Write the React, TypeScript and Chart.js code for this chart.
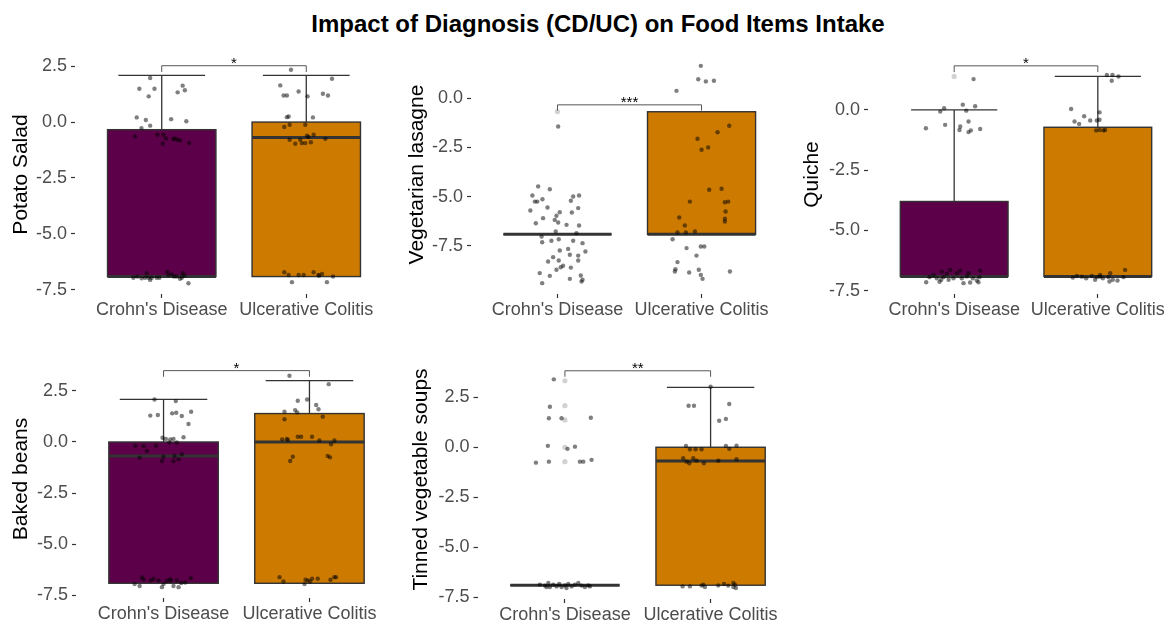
import React, { useEffect, useRef } from 'react';
import { Chart, registerables } from 'chart.js';

Chart.register(...registerables);

const FONT = "'Liberation Sans', Arial, Helvetica, sans-serif";
const TITLE = 'Impact of Diagnosis (CD/UC) on Food Items Intake';
const CATEGORIES = ["Crohn's Disease", 'Ulcerative Colitis'];
const Y_TICKS = [-7.5, -5, -2.5, 0, 2.5];
const FILL_COLORS = ['#5C0049', '#CC7A00'];

const ITEM_NAMES = ['Potato Salad', 'Vegetarian lasagne', 'Quiche', 'Baked beans', 'Tinned vegetable soups'];
const Y_MIN = [-7.69, -9.94, -7.64, -7.63, -7.6];
const Y_MAX = [3.0, 2.19, 2.28, 4.01, 4.37];

// Box stats per item: [q1, median, q3, upper whisker] for CD and UC
const BOX_CD = [
  [-6.91, -6.91, -0.34, 2.09],
  [-6.91, -6.91, -6.91, -6.91],
  [-6.91, -6.91, -3.8, 0.0],
  [-6.91, -0.69, 0.0, 2.08],
  [-6.91, -6.91, -6.91, -6.91],
];
const BOX_UC = [
  [-6.91, -0.69, 0.0, 2.09],
  [-6.91, -6.91, -0.69, -0.69],
  [-6.91, -6.91, -0.72, 1.39],
  [-6.91, 0.0, 1.39, 3.0],
  [-6.91, -0.69, 0.0, 3.0],
];

// Significance brackets: bar y, tip y, label
const BRACKET_Y = [2.52, -0.34, 1.83, 3.49, 3.83];
const BRACKET_TIP = [2.24, -0.63, 1.57, 3.19, 3.53];
const BRACKET_LABEL = ['*', '***', '*', '*', '**'];

// Outliers (drawn at category centre) for CD and UC
const OUT_CD = [[], [-0.68], [1.39], [], [3.33, 2.08, 1.37, 0.0, -0.72]];
const OUT_UC = [[], [], [], [], []];

// Jittered observations: [jitter offset from category, value]
const POTATO_CD = [
  [-0.08, 1.97], [-0.155, 1.49], [-0.05, 1.49], [-0.09, 1.15], [0.145, 1.63], [0.16, 1.42], [0.11, 1.33],
  [-0.173, 0.21], [-0.11, 0.09], [0.065, 0.13], [0.17, 0.04], [-0.14, -0.27], [-0.08, -0.16],
  [-0.185, -0.64], [-0.03, -0.57], [0.012, -0.57], [0.03, -0.73], [0.08, -0.76], [0.092, -0.73], [0.108, -0.79],
  [0.007, -0.97], [0.19, -0.94], [0.127, -0.82],
  [-0.196, -6.96], [-0.169, -6.91], [-0.139, -6.99], [-0.104, -6.76], [-0.092, -6.96], [-0.08, -7.06], [-0.069, -6.96],
  [-0.016, -6.96], [0.039, -6.7], [0.069, -6.81], [0.085, -6.91], [0.104, -6.91], [0.127, -7.01], [0.145, -6.76],
  [0.157, -6.87], [0.185, -7.21], [-0.035, -6.96], [-0.115, -6.96], [0.046, -6.84], [0.139, -6.96],
];
const POTATO_UC = [
  [-0.106, 2.34], [-0.18, 1.64], [-0.157, 1.19], [-0.134, 1.19], [-0.053, 1.37], [0.009, 1.15], [0.178, 1.94],
  [0.115, 1.27], [0.15, 1.19],
  [-0.134, 0.22], [-0.122, 0.25], [0.046, 0.21], [-0.152, -0.22], [-0.115, -0.12], [-0.007, -0.12],
  [-0.115, -0.79], [-0.076, -0.97], [-0.03, -0.94], [-0.007, -0.94], [0.032, -0.9], [0.016, -0.67], [0.005, -0.61],
  [0.051, -0.57], [0.132, -0.75], [-0.042, -0.79],
  [-0.152, -6.72], [-0.122, -6.84], [-0.053, -6.84], [-0.018, -6.84], [0.051, -6.72], [0.085, -6.84], [0.109, -6.79],
  [0.185, -6.91], [-0.099, -7.16], [0.143, -7.16], [0.088, -6.87],
];
const LASAGNE_CD = [
  [-0.134, -4.48], [-0.053, -4.62], [-0.174, -4.94], [-0.157, -5.25], [-0.14, -5.25], [-0.104, -5.13], [-0.069, -5.55],
  [-0.188, -5.7], [-0.1, -6.09], [-0.15, -6.35], [-0.019, -6.18], [-0.007, -5.97], [0.016, -5.79], [0.005, -6.31],
  [0.063, -6.43], [0.1, -5.8], [0.109, -4.99], [0.15, -4.94], [0.093, -5.21], [0.144, -5.58], [0.15, -6.46],
  [-0.012, -6.77], [0.132, -6.85], [-0.11, -7.02], [-0.042, -7.24], [0.009, -7.16], [-0.106, -7.31], [0.109, -7.24],
  [0.174, -7.36], [0.074, -7.65], [0.016, -7.73], [0.194, -7.78], [0.144, -7.99], [0.086, -7.95], [-0.03, -8.07],
  [0.009, -8.24], [0.144, -8.24], [-0.065, -8.29], [0.039, -8.51], [0.023, -8.58], [-0.007, -8.71], [0.093, -8.6],
  [-0.123, -8.88], [-0.053, -9.02], [0.086, -9.17], [0.162, -9.0], [0.174, -9.22], [0.167, -9.31], [-0.106, -9.39],
  [0.005, -1.44],
];
const LASAGNE_UC = [
  [-0.005, 1.64], [-0.023, 0.96], [0.086, 0.88], [0.03, 0.85], [-0.174, 0.37], [0.192, -1.4], [0.111, -1.73],
  [-0.028, -2.06], [0.046, -2.5], [0.0, -2.62], [0.139, -4.6], [0.053, -4.65], [-0.081, -5.25], [0.162, -5.28],
  [0.185, -5.25], [0.167, -5.75], [0.162, -6.12], [0.162, -6.26], [-0.155, -6.06], [-0.116, -6.46], [-0.167, -6.82],
  [-0.109, -6.82], [-0.046, -6.77], [-0.201, -7.16], [-0.104, -7.61], [-0.005, -7.53], [0.019, -7.53], [-0.035, -7.99],
  [-0.167, -8.32], [-0.185, -8.8], [-0.181, -8.68], [-0.086, -8.85], [-0.019, -8.71], [-0.005, -8.97], [0.007, -9.17],
  [0.197, -8.8],
];
const QUICHE_CD = [
  [0.135, 1.28], [0.06, 0.22], [0.146, 0.15], [-0.07, 0.07], [-0.097, -0.07], [0.084, -0.03], [0.1, -0.48],
  [-0.063, -0.62], [0.042, -0.69], [-0.197, -0.76], [0.181, -0.79], [0.116, -0.85], [0.1, -0.92], [0.037, -0.83],
  [-0.195, -7.15], [-0.172, -6.94], [-0.144, -6.85], [-0.121, -6.99], [-0.102, -7.13], [-0.086, -6.71], [-0.074, -6.94],
  [-0.051, -6.8], [-0.028, -6.64], [-0.005, -6.99], [0.019, -6.78], [0.042, -6.67], [0.053, -6.99], [0.065, -7.19],
  [0.088, -6.91], [0.1, -6.78], [0.111, -7.16], [0.13, -6.99], [0.158, -7.08], [0.176, -6.94], [0.181, -6.67],
  [0.169, -7.15], [-0.09, -7.05], [-0.039, -7.05],
];
const QUICHE_UC = [
  [0.063, 1.45], [0.102, 1.45], [0.144, 1.39], [0.097, 1.21], [-0.186, 0.04], [0.012, -0.1], [-0.095, -0.26],
  [-0.053, -0.44], [-0.162, -0.48], [-0.13, -0.58], [-0.007, -0.44], [0.012, -0.41], [-0.012, -0.85], [0.012, -0.83],
  [0.039, -0.85], [0.051, -0.83],
  [-0.174, -6.96], [-0.146, -6.89], [-0.111, -6.92], [-0.081, -6.99], [-0.042, -6.89], [-0.007, -6.94], [0.016, -6.92],
  [0.035, -6.99], [0.074, -6.94], [0.086, -6.78], [0.104, -7.05], [0.137, -7.08], [0.179, -6.94], [0.19, -6.64],
  [0.016, -6.85], [-0.019, -7.05], [0.081, -7.12],
];
const BEANS_CD = [
  [-0.062, 2.08], [0.084, 2.0], [-0.091, 1.29], [-0.039, 1.32], [0.059, 1.4], [0.087, 1.43], [0.125, 1.27],
  [0.189, 1.48], [0.171, 0.88], [-0.007, 0.21], [0.016, 0.15], [0.046, 0.13], [0.068, 0.15], [0.137, 0.23],
  [0.039, -0.02], [0.091, -0.02], [-0.194, -0.18], [-0.137, -0.2], [-0.052, -0.18], [-0.114, -0.44], [-0.164, -0.77],
  [0.0, -0.72], [0.075, -0.68], [0.125, -0.6], [0.103, -0.85], [-0.011, -0.93], [0.068, -0.93],
  [-0.198, -6.95], [-0.164, -7.04], [-0.137, -6.71], [-0.148, -6.63], [-0.068, -6.69], [-0.011, -7.1], [0.0, -6.95],
  [0.023, -6.79], [0.046, -6.71], [0.05, -6.79], [0.068, -7.04], [0.091, -6.77], [0.103, -7.1], [0.121, -6.9],
  [0.148, -6.87], [0.187, -6.66], [-0.087, -6.77], [-0.034, -6.77],
];
const BEANS_UC = [
  [-0.137, 3.24], [0.132, 2.83], [-0.08, 2.02], [-0.016, 2.08], [0.046, 1.81], [0.062, 1.6], [-0.171, 1.48],
  [-0.098, 1.56], [-0.084, 1.45], [0.091, 1.24], [-0.171, 1.11], [-0.187, 0.13], [-0.155, 0.15], [-0.148, 0.1],
  [-0.08, 0.26], [-0.057, 0.26], [0.018, 0.26], [0.068, 0.07], [0.171, 0.07], [0.148, -0.11], [-0.114, -0.72],
  [-0.132, -0.93], [0.125, -0.68], [0.141, -0.75],
  [-0.205, -6.61], [-0.178, -6.82], [-0.034, -6.95], [-0.027, -6.74], [-0.011, -6.77], [0.018, -6.69], [0.057, -6.69],
  [0.144, -6.74], [0.171, -6.61], [0.182, -6.61], [0.005, -6.82],
];
const SOUPS_CD = [
  [-0.076, 3.4], [-0.103, 2.03], [-0.11, 1.45], [-0.023, 1.45], [0.178, 1.48], [-0.117, 0.07], [0.018, -0.08],
  [0.069, 0.03], [-0.199, -0.77], [-0.11, -0.72], [0.103, -0.72], [0.126, -0.72], [0.183, -0.63],
  [-0.172, -6.88], [-0.137, -6.93], [-0.114, -6.8], [-0.103, -7.0], [-0.08, -6.88], [-0.057, -6.97], [-0.039, -6.85],
  [-0.023, -7.0], [0.0, -6.92], [0.023, -6.85], [0.046, -6.97], [0.069, -6.88], [0.092, -6.8], [0.114, -6.93],
  [0.137, -7.0], [0.16, -6.92], [0.172, -6.97], [-0.126, -7.0], [0.011, -7.05],
];
const SOUPS_UC = [
  [0.0, 3.03], [-0.151, 2.08], [-0.114, 2.08], [0.128, 2.17], [0.105, 1.42], [0.059, 1.33], [-0.169, 0.07],
  [-0.142, -0.1], [-0.103, -0.1], [-0.062, -0.1], [0.105, 0.07], [0.128, -0.08], [0.178, 0.08], [-0.188, -0.55],
  [-0.165, -0.72], [-0.146, -0.8], [-0.119, -0.55], [-0.046, -0.8], [0.053, -0.67], [0.178, -0.6], [-0.096, -0.67],
  [-0.192, -6.97], [-0.142, -6.97], [-0.062, -6.93], [-0.05, -6.88], [0.053, -6.92], [0.092, -6.85], [0.121, -6.93],
  [0.156, -7.0], [0.167, -6.88], [0.174, -7.05], [0.156, -6.8], [-0.039, -7.0],
];
const POINTS_CD = [POTATO_CD, LASAGNE_CD, QUICHE_CD, BEANS_CD, SOUPS_CD];
const POINTS_UC = [POTATO_UC, LASAGNE_UC, QUICHE_UC, BEANS_UC, SOUPS_UC];

// Layout (canvas box and plot-area insets), in page pixels
const LAYOUT = [
  { left: 0, top: 40, width: 400, height: 290, plotLeft: 75, padTop: 15, padRight: 7, xH: 36, titlePad: 9 },
  { left: 400, top: 40, width: 400, height: 290, plotLeft: 71, padTop: 15, padRight: 12, xH: 36, titlePad: 5 },
  { left: 780, top: 40, width: 410, height: 290, plotLeft: 88, padTop: 15, padRight: 6, xH: 36, titlePad: 20 },
  { left: 0, top: 340, width: 410, height: 290, plotLeft: 76, padTop: 20, padRight: 13, xH: 32, titlePad: 9 },
  { left: 400, top: 340, width: 410, height: 290, plotLeft: 77.5, padTop: 20, padRight: 12, xH: 31, titlePad: 9 },
];

const BOX_WIDTH = 0.75;
const CAP_WIDTH = 0.6;
const LINE = '#333333';

function makeBoxPlugin(idx: number) {
  return {
    id: 'boxes' + idx,
    beforeDatasetsDraw(chart: any) {
      const { ctx, scales } = chart;
      const x = scales.x;
      const y = scales.y;
      [BOX_CD[idx], BOX_UC[idx]].forEach((b, i) => {
        const [q1, med, q3, hi] = b;
        const c = i + 1;
        const cx = x.getPixelForValue(c);
        ctx.save();
        ctx.strokeStyle = LINE;
        if (hi > q3) {
          ctx.lineWidth = 1.3;
          ctx.beginPath();
          ctx.moveTo(cx, y.getPixelForValue(q3));
          ctx.lineTo(cx, y.getPixelForValue(hi));
          ctx.stroke();
          ctx.beginPath();
          ctx.moveTo(x.getPixelForValue(c - CAP_WIDTH / 2), y.getPixelForValue(hi));
          ctx.lineTo(x.getPixelForValue(c + CAP_WIDTH / 2), y.getPixelForValue(hi));
          ctx.stroke();
        }
        const xl = x.getPixelForValue(c - BOX_WIDTH / 2);
        const xr = x.getPixelForValue(c + BOX_WIDTH / 2);
        const yt = y.getPixelForValue(q3);
        const yb = y.getPixelForValue(q1);
        ctx.fillStyle = FILL_COLORS[i];
        ctx.fillRect(xl, yt, xr - xl, yb - yt);
        ctx.lineWidth = 1.4;
        ctx.strokeRect(xl, yt, xr - xl, yb - yt);
        ctx.lineWidth = 3;
        ctx.beginPath();
        ctx.moveTo(xl, y.getPixelForValue(med));
        ctx.lineTo(xr, y.getPixelForValue(med));
        ctx.stroke();
        ctx.restore();
      });
    },
    afterDatasetsDraw(chart: any) {
      const { ctx, scales } = chart;
      const x = scales.x;
      const y = scales.y;
      const x1 = x.getPixelForValue(1);
      const x2 = x.getPixelForValue(2);
      const by = y.getPixelForValue(BRACKET_Y[idx]);
      const ty = y.getPixelForValue(BRACKET_TIP[idx]);
      ctx.save();
      ctx.strokeStyle = '#555555';
      ctx.lineWidth = 1;
      ctx.beginPath();
      ctx.moveTo(x1, ty);
      ctx.lineTo(x1, by);
      ctx.lineTo(x2, by);
      ctx.lineTo(x2, ty);
      ctx.stroke();
      ctx.fillStyle = '#000000';
      ctx.font = `15px ${FONT}`;
      ctx.textAlign = 'center';
      ctx.textBaseline = 'alphabetic';
      ctx.fillText(BRACKET_LABEL[idx], (x1 + x2) / 2, by + 2);
      ctx.restore();
    },
  };
}

function Panel({ idx }: { idx: number }) {
  const ref = useRef<HTMLCanvasElement>(null);
  const L = LAYOUT[idx];
  useEffect(() => {
    if (!ref.current) return;
    const pts: any[] = [];
    POINTS_CD[idx].forEach(([dx, v]) => pts.push({ x: 1 + dx, y: v }));
    POINTS_UC[idx].forEach(([dx, v]) => pts.push({ x: 2 + dx, y: v }));
    const outs: any[] = [];
    OUT_CD[idx].forEach((v) => outs.push({ x: 1, y: v }));
    OUT_UC[idx].forEach((v) => outs.push({ x: 2, y: v }));
    const chart = new Chart(ref.current, {
      type: 'scatter',
      data: {
        datasets: [
          {
            data: pts,
            pointRadius: 2.2,
            pointBackgroundColor: 'rgba(0,0,0,0.5)',
            pointBorderWidth: 0,
            borderWidth: 0,
            clip: false as any,
          },
          {
            data: outs,
            pointRadius: 2.6,
            pointBackgroundColor: '#d2d2d2',
            pointBorderWidth: 0,
            borderWidth: 0,
            clip: false as any,
          },
        ],
      },
      options: {
        animation: false,
        responsive: false,
        maintainAspectRatio: false,
        devicePixelRatio: 1,
        events: [],
        layout: { padding: { top: L.padTop, right: L.padRight, left: 0, bottom: 0 } },
        plugins: { legend: { display: false }, tooltip: { enabled: false }, title: { display: false } },
        scales: {
          x: {
            type: 'linear',
            min: 0.4,
            max: 2.6,
            afterBuildTicks: (s: any) => {
              s.ticks = CATEGORIES.map((_, i) => ({ value: i + 1 }));
            },
            afterFit: (s: any) => {
              s.height = L.xH;
            },
            ticks: {
              autoSkip: false,
              maxRotation: 0,
              minRotation: 0,
              padding: 1,
              color: '#4D4D4D',
              font: { family: FONT, size: 18 },
              callback: (v: any) => CATEGORIES[Math.round(Number(v)) - 1],
            },
            grid: { drawOnChartArea: false, drawTicks: true, tickLength: 4, color: LINE, tickWidth: 1.2 },
            border: { display: false },
          },
          y: {
            type: 'linear',
            min: Y_MIN[idx],
            max: Y_MAX[idx],
            afterBuildTicks: (s: any) => {
              s.ticks = Y_TICKS.filter((t) => t >= Y_MIN[idx] && t <= Y_MAX[idx]).map((t) => ({ value: t }));
            },
            afterFit: (s: any) => {
              s.width = L.plotLeft;
            },
            ticks: {
              padding: 4,
              color: '#4D4D4D',
              font: { family: FONT, size: 18 },
              callback: (v: any) => Number(v).toFixed(1),
            },
            grid: { drawOnChartArea: false, drawTicks: true, tickLength: 4, color: LINE, tickWidth: 1.2 },
            border: { display: false },
            title: {
              display: true,
              text: ITEM_NAMES[idx],
              color: '#000000',
              font: { family: FONT, size: 21 },
              padding: { top: L.titlePad, bottom: 0 },
            },
          },
        },
      },
      plugins: [makeBoxPlugin(idx)],
    } as any);
    return () => chart.destroy();
  }, [idx]);
  return (
    <canvas
      ref={ref}
      width={L.width}
      height={L.height}
      style={{ position: 'absolute', left: L.left, top: L.top, width: L.width, height: L.height }}
    />
  );
}

export default function App() {
  return (
    <div
      style={{
        position: 'absolute',
        left: 0,
        top: 0,
        width: 1167,
        height: 621,
        overflow: 'hidden',
        background: '#ffffff',
      }}
    >
      <div
        style={{
          position: 'absolute',
          left: 0,
          top: 10,
          width: 1196,
          textAlign: 'center',
          fontFamily: FONT,
          fontWeight: 'bold',
          fontSize: 24,
          lineHeight: '28px',
          color: '#000000',
        }}
      >
        {TITLE}
      </div>
      {ITEM_NAMES.map((_, i) => (
        <Panel key={i} idx={i} />
      ))}
    </div>
  );
}
